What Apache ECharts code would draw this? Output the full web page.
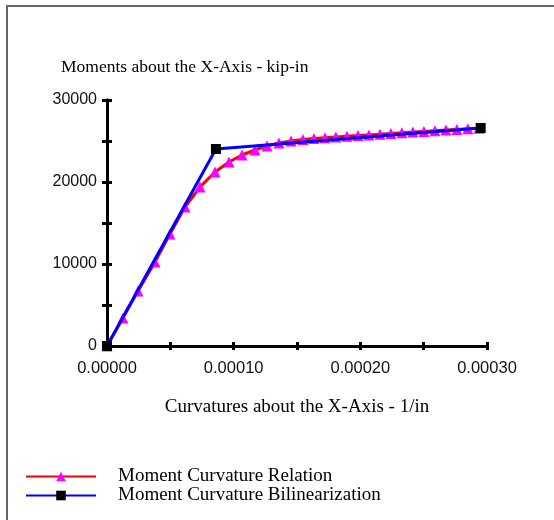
<!DOCTYPE html>
<html>
<head>
<meta charset="utf-8">
<script src="https://cdn.jsdelivr.net/npm/echarts@6/dist/echarts.min.js"></script>
<style>
html,body{margin:0;padding:0;background:#fff;}
#frame{position:absolute;left:6px;top:5px;width:700px;height:700px;border:2px solid #666;border-right:none;border-bottom:none;box-sizing:border-box;}
#chart{position:absolute;left:0;top:0;width:554px;height:520px;}
</style>
</head>
<body>
<div id="frame"></div>
<div id="chart"></div>
<script>
// Moment-curvature relation (curvature 1/in, moment kip-in)
const curvRel = [0, 0.0000126, 0.0000245, 0.0000379, 0.0000497, 0.0000616, 0.0000734, 0.0000853, 0.0000963, 0.0001066, 0.0001168, 0.0001263, 0.0001358, 0.0001453,
  0.0001547, 0.0001634, 0.0001721, 0.0001807, 0.0001894, 0.0001981, 0.0002068, 0.0002155, 0.0002241, 0.0002328, 0.0002415, 0.0002502, 0.0002589, 0.0002676, 0.0002762, 0.0002849, 0.0002936];
const momRel = [0, 3415, 6707, 10244, 13659, 16951, 19390, 21220, 22439, 23293, 23902, 24390, 24756, 25000,
  25183, 25293, 25390, 25488, 25573, 25659, 25744, 25829, 25915, 26000, 26085, 26171, 26256, 26341, 26415, 26488, 26561];
// Bilinearization
const curvBil = [0, 0.000086, 0.000295];
const momBil = [0, 24024, 26585];
const xTicks = ['0.00000', '0.00010', '0.00020', '0.00030'];
const yTicks = ['0', '10000', '20000', '30000'];

const serif = "'Liberation Serif', 'Times New Roman', serif";
const sans = "'Liberation Sans', Arial, sans-serif";

const chart = echarts.init(document.getElementById('chart'), null, {renderer: 'canvas'});
const xCommon = {
  type: 'value', min: 0, max: 0.0003, interval: 0.00005, position: 'bottom',
  splitLine: {show: false},
  axisLine: {show: true, onZero: false, lineStyle: {color: '#000', width: 3}},
};
const yCommon = {
  type: 'value', min: 0, max: 30000, interval: 5000, position: 'left',
  splitLine: {show: false},
  axisLine: {show: true, onZero: false, lineStyle: {color: '#000', width: 3}},
};
chart.setOption({
  animation: false,
  backgroundColor: 'transparent',
  title: {
    text: 'Moments about the X-Axis - kip-in', left: 56, top: 53,
    textStyle: {fontFamily: serif, fontSize: 17.5, fontWeight: 'normal', color: '#000'}
  },
  grid: {left: 107, right: 67, top: 100, bottom: 174, containLabel: false},
  xAxis: [
    Object.assign({}, xCommon, {
      name: 'Curvatures about the X-Axis - 1/in', nameLocation: 'middle', nameGap: 52,
      nameTextStyle: {fontFamily: serif, fontSize: 19, color: '#000'},
      axisTick: {show: true, inside: false, length: 4, lineStyle: {color: '#000', width: 3}},
      axisLabel: {
        margin: 14, fontFamily: sans, fontSize: 16.5, color: '#111',
        formatter: function (v) { const k = Math.round(v / 0.0001 * 2); return k % 2 === 0 ? xTicks[k / 2] : ''; }
      }
    }),
    Object.assign({}, xCommon, {
      axisTick: {show: true, inside: true, length: 4, lineStyle: {color: '#000', width: 3}},
      axisLabel: {show: false}
    })
  ],
  yAxis: [
    Object.assign({}, yCommon, {
      axisTick: {show: true, inside: false, length: 5, lineStyle: {color: '#000', width: 3}},
      axisLabel: {
        margin: 10, fontFamily: sans, fontSize: 16, color: '#111',
        formatter: function (v) { const k = Math.round(v / 5000); return k % 2 === 0 ? yTicks[k / 2] : ''; }
      }
    }),
    Object.assign({}, yCommon, {
      axisTick: {show: true, inside: true, length: 5, lineStyle: {color: '#000', width: 3}},
      axisLabel: {show: false}
    })
  ],
  legend: {
    orient: 'vertical', left: 20, top: 462, itemWidth: 70, itemHeight: 12, itemGap: 0,
    textStyle: {fontFamily: serif, fontSize: 19, lineHeight: 19, color: '#000', padding: [0, 0, 0, 17]},
    data: ['Moment Curvature Relation', 'Moment Curvature Bilinearization']
  },
  series: [
    {
      name: 'Moment Curvature Relation', type: 'line', xAxisIndex: 0, yAxisIndex: 0, z: 2,
      data: curvRel.map((c, i) => [c, momRel[i]]),
      symbol: 'triangle', symbolSize: 11, showAllSymbol: true,
      lineStyle: {color: '#ff0000', width: 3},
      itemStyle: {color: '#ff00ff'}
    },
    {
      name: 'Moment Curvature Bilinearization', type: 'line', xAxisIndex: 0, yAxisIndex: 0, z: 3,
      data: curvBil.map((c, i) => [c, momBil[i]]),
      symbol: 'rect', symbolSize: 10, showAllSymbol: true,
      lineStyle: {color: '#0000ff', width: 3},
      itemStyle: {color: '#000000'}
    }
  ]
});
</script>
</body>
</html>
